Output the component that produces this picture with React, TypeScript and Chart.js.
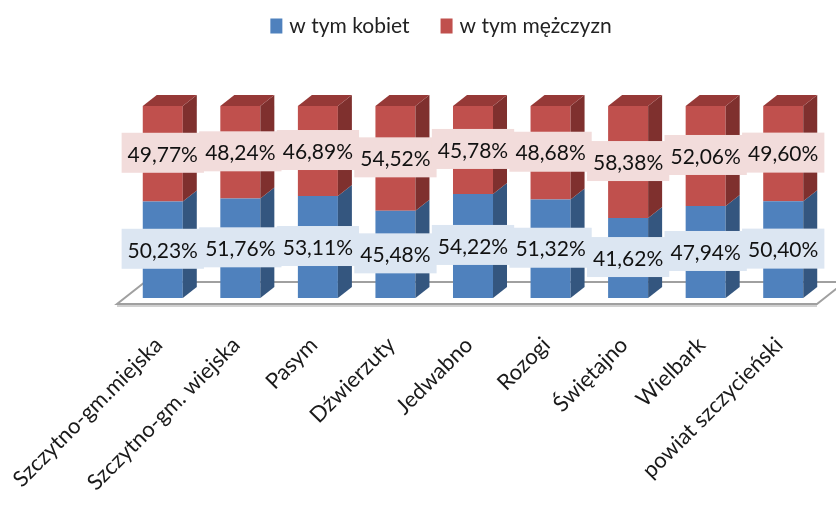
import React, { useEffect, useRef } from 'react';
import { Chart, registerables } from 'chart.js';

Chart.register(...registerables);

const categories = [
  'Szczytno-gm.miejska',
  'Szczytno-gm. wiejska',
  'Pasym',
  'Dźwierzuty',
  'Jedwabno',
  'Rozogi',
  'Świętajno',
  'Wielbark',
  'powiat szczycieński',
];
const womenShare = [50.23, 51.76, 53.11, 45.48, 54.22, 51.32, 41.62, 47.94, 50.4];
const menShare = [49.77, 48.24, 46.89, 54.52, 45.78, 48.68, 58.38, 52.06, 49.6];
const seriesNames = ['w tym kobiet', 'w tym mężczyzn'];

const FONT = 'Lato, "Open Sans", sans-serif';
const DEPTH_X = 14;
const DEPTH_Y = -11;

const palette = [
  { front: '#4f81bd', side: '#34567f', top: '#45729f', label: '#dce6f2' },
  { front: '#c0504d', side: '#7f302e', top: '#963937', label: '#f2dcdb' },
];

const fmt = (v: number) => v.toFixed(2).replace('.', ',') + '%';

const floorPlugin = {
  id: 'floor3d',
  beforeDatasetsDraw(chart: any) {
    const { ctx, chartArea } = chart;
    const { left, right, bottom } = chartArea;
    const fl = left - 7;
    const fr = right - 5;
    const fy = bottom + 6;
    const bx = 28;
    const by = -22;
    ctx.save();
    ctx.beginPath();
    ctx.moveTo(fl, fy);
    ctx.lineTo(fr, fy);
    ctx.lineTo(fr + bx, fy + by);
    ctx.lineTo(fl + bx, fy + by);
    ctx.closePath();
    ctx.fillStyle = '#ffffff';
    ctx.fill();
    ctx.strokeStyle = '#a0a0a0';
    ctx.lineWidth = 2;
    ctx.stroke();
    ctx.beginPath();
    ctx.moveTo(fl, fy + 2);
    ctx.lineTo(fr, fy + 2);
    ctx.strokeStyle = '#d0d0d0';
    ctx.lineWidth = 2;
    ctx.stroke();
    ctx.restore();
  },
};

const barsPlugin = {
  id: 'bars3d',
  afterDatasetsDraw(chart: any) {
    const { ctx } = chart;
    const n = chart.data.datasets.length;
    ctx.save();
    for (let d = 0; d < n; d++) {
      const meta = chart.getDatasetMeta(d);
      const col = palette[d];
      meta.data.forEach((el: any) => {
        const p = el.getProps(['x', 'y', 'base', 'width'], true);
        const L = p.x - p.width / 2;
        const R = p.x + p.width / 2;
        const top = Math.min(p.y, p.base);
        const bot = Math.max(p.y, p.base);
        ctx.beginPath();
        ctx.moveTo(R, bot);
        ctx.lineTo(R + DEPTH_X, bot + DEPTH_Y);
        ctx.lineTo(R + DEPTH_X, top + DEPTH_Y);
        ctx.lineTo(R, top);
        ctx.closePath();
        ctx.fillStyle = col.side;
        ctx.fill();
        if (d === n - 1) {
          ctx.beginPath();
          ctx.moveTo(L, top);
          ctx.lineTo(R, top);
          ctx.lineTo(R + DEPTH_X, top + DEPTH_Y);
          ctx.lineTo(L + DEPTH_X, top + DEPTH_Y);
          ctx.closePath();
          ctx.fillStyle = col.top;
          ctx.fill();
        }
      });
    }
    // data labels
    ctx.font = `21px ${FONT}`;
    ctx.textAlign = 'center';
    ctx.textBaseline = 'middle';
    for (let d = n - 1; d >= 0; d--) {
      const meta = chart.getDatasetMeta(d);
      const values = chart.data.datasets[d].data as number[];
      meta.data.forEach((el: any, i: number) => {
        const p = el.getProps(['x', 'y', 'base'], true);
        const cy = (p.y + p.base) / 2;
        const text = fmt(values[i]);
        const w = ctx.measureText(text).width + 12;
        const h = 40;
        ctx.fillStyle = palette[d].label;
        ctx.fillRect(p.x - w / 2, cy - h / 2 - 1, w, h);
        ctx.fillStyle = '#111111';
        ctx.fillText(text, p.x, cy + 1);
      });
    }
    ctx.restore();
  },
};

const legendPlugin = {
  id: 'legendCustom',
  afterDraw(chart: any) {
    const { ctx } = chart;
    const centerX = 441;
    const cy = 26;
    const boxW = 12;
    const boxH = 15;
    const gap = 7;
    const itemGap = 31;
    ctx.save();
    ctx.font = `21px ${FONT}`;
    ctx.textBaseline = 'middle';
    ctx.textAlign = 'left';
    const ds = chart.data.datasets;
    const widths = ds.map((s: any) => boxW + gap + ctx.measureText(s.label).width);
    const total = widths.reduce((a: number, b: number) => a + b, 0) + itemGap * (ds.length - 1);
    let x = centerX - total / 2;
    ds.forEach((s: any, i: number) => {
      ctx.fillStyle = s.backgroundColor;
      ctx.fillRect(x, cy - boxH / 2, boxW, boxH);
      ctx.fillStyle = '#222222';
      ctx.fillText(s.label, x + boxW + gap, cy);
      x += widths[i] + itemGap;
    });
    ctx.restore();
  },
};

export default function App() {
  const ref = useRef<HTMLCanvasElement | null>(null);
  useEffect(() => {
    document.body.style.margin = '0';
    if (!ref.current) return;
    const chart = new Chart(ref.current, {
      type: 'bar',
      data: {
        labels: categories,
        datasets: [
          {
            label: seriesNames[0],
            data: womenShare,
            backgroundColor: palette[0].front,
            borderWidth: 0,
            barPercentage: 0.516,
            categoryPercentage: 1,
          },
          {
            label: seriesNames[1],
            data: menShare,
            backgroundColor: palette[1].front,
            borderWidth: 0,
            barPercentage: 0.516,
            categoryPercentage: 1,
          },
        ],
      },
      options: {
        responsive: false,
        animation: false,
        devicePixelRatio: 1,
        layout: { padding: { left: 124, right: 14, top: 106, bottom: 0 } },
        plugins: {
          legend: { display: false },
          tooltip: { enabled: false },
        },
        scales: {
          x: {
            stacked: true,
            grid: { display: false, drawTicks: false },
            border: { display: false },
            ticks: {
              autoSkip: false,
              maxRotation: 45,
              minRotation: 45,
              padding: 34,
              labelOffset: -4,
              color: '#1a1a1a',
              font: { family: FONT, size: 22 },
            },
            afterFit: (s: any) => {
              s.paddingLeft = 0;
              s.paddingRight = 0;
              s.height = 210;
            },
          },
          y: { stacked: true, min: 0, max: 100, display: false },
        },
      },
      plugins: [floorPlugin, barsPlugin, legendPlugin],
    });
    return () => chart.destroy();
  }, []);
  return (
    <div style={{ width: 836, height: 508 }}>
      <canvas ref={ref} width={836} height={508} style={{ display: 'block' }} />
    </div>
  );
}
